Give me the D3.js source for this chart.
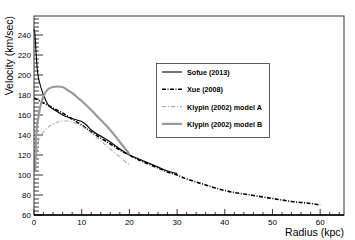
<!DOCTYPE html>
<html lang="en">
  <head>
    <meta charset="UTF-8" />
    <title>Rotation curves</title>
    <style>
      body { margin: 0; background: #fff; }
      svg { font-family: "Liberation Sans", Arial, sans-serif; }
    </style>
  </head>
  <body>
    <svg id="chart" width="355" height="240"></svg>
  </body>
  <script src="https://cdn.jsdelivr.net/npm/d3@7"></script>
  <script>
    // radius (kpc), velocity (km/sec)
    let sofueR = [0, 0.2, 0.4, 0.7, 1.2, 2, 3, 4, 5, 6, 7, 8, 9, 10, 11, 12, 14, 16, 18, 20, 22, 24, 26, 28, 30];
    let sofueV = [246, 240, 225, 205, 192, 180, 170, 166, 163, 160, 158, 156.5, 155, 153.5, 150, 145, 139, 133, 126, 120, 116, 112, 108, 104, 101.5];

    let xueR = [0, 2, 4, 6, 8, 10, 12, 14, 16, 18, 20, 22, 24, 26, 28, 30, 32, 34, 36, 38, 40, 42, 44, 46, 48, 50, 52, 54, 56, 58, 60];
    let xueV = [177, 172, 167, 162, 156, 150, 143, 137, 131, 125, 120, 115, 111, 107, 103, 100, 96, 93, 90, 87, 84.5, 82.5, 81, 79.5, 78, 76.5, 75, 73.5, 72.5, 71.5, 70];

    let klypinAR = [0.4, 0.7, 1, 2, 3, 4, 5, 6, 7, 8, 9, 10, 12, 14, 16, 18, 20];
    let klypinAV = [106, 125, 135, 143, 148, 151, 153, 154, 154, 153, 151, 149, 142, 134, 126, 118, 110];

    let klypinBR = [0.2, 0.5, 1, 1.5, 2, 3, 4, 5, 6, 7, 8, 9, 10, 12, 14, 16, 18, 20];
    let klypinBV = [105, 140, 160, 172, 179, 186, 188, 188.5, 188, 185, 182, 178, 174, 165, 155, 145, 133, 121];

    let seriesNames = ["Sofue (2013)", "Xue (2008)", "Klypin (2002) model A", "Klypin (2002) model B"];
    let xTicks = [0, 10, 20, 30, 40, 50, 60];
    let yTicks = [60, 80, 100, 120, 140, 160, 180, 200, 220, 240];

    let styles = [
      { color: "#000", width: 1.1, dash: null },
      { color: "#000", width: 1.6, dash: "4,1.5,1,1.5" },
      { color: "#aaa", width: 1.1, dash: "4,2,1,2" },
      { color: "#999", width: 2.2, dash: null },
    ];

    let series = [
      d3.zip(sofueR, sofueV),
      d3.zip(xueR, xueV),
      d3.zip(klypinAR, klypinAV),
      d3.zip(klypinBR, klypinBV),
    ];

    let svg = d3.select("#chart");
    let padL = 34, padR = 344, padT = 16, padB = 215;

    let x = d3.scaleLinear().domain([0, 65]).range([padL, padR]);
    let y = d3.scaleLinear().domain([60, 259]).range([padB, padT]);

    // minor ticks
    let g = svg.append("g");
    g.selectAll(".xminor")
      .data(d3.range(0, 65, 2))
      .enter()
      .append("line")
      .attr("x1", (d) => x(d))
      .attr("x2", (d) => x(d))
      .attr("y1", padB)
      .attr("y2", (d) => (d % 10 === 0 ? padB - 6 : padB - 3))
      .attr("stroke", "#000")
      .attr("stroke-width", 0.8);
    g.selectAll(".yminor")
      .data(d3.range(60, 259, 4))
      .enter()
      .append("line")
      .attr("y1", (d) => y(d))
      .attr("y2", (d) => y(d))
      .attr("x1", padL)
      .attr("x2", (d) => ((d - 60) % 20 === 0 ? padL + 9 : padL + 5))
      .attr("stroke", "#000")
      .attr("stroke-width", 0.8);

    // tick labels
    svg.append("g")
      .selectAll("text")
      .data(xTicks)
      .enter()
      .append("text")
      .attr("x", (d) => x(d))
      .attr("y", padB + 10)
      .attr("text-anchor", "middle")
      .attr("font-size", 8)
      .text((d) => d);
    svg.append("g")
      .selectAll("text")
      .data(yTicks)
      .enter()
      .append("text")
      .attr("x", padL - 3)
      .attr("y", (d) => y(d) + 3)
      .attr("text-anchor", "end")
      .attr("font-size", 8)
      .text((d) => d);

    // curves
    let line = d3
      .line()
      .x((d) => x(d[0]))
      .y((d) => y(d[1]))
      .curve(d3.curveMonotoneX);

    svg.append("g")
      .selectAll("path")
      .data(series)
      .enter()
      .append("path")
      .attr("d", line)
      .attr("fill", "none")
      .attr("stroke", (d, i) => styles[i].color)
      .attr("stroke-width", (d, i) => styles[i].width)
      .attr("stroke-dasharray", (d, i) => styles[i].dash);

    // frame
    svg.append("rect")
      .attr("x", padL)
      .attr("y", padT)
      .attr("width", padR - padL)
      .attr("height", padB - padT)
      .attr("fill", "none")
      .attr("stroke", "#333")
      .attr("stroke-width", 1);
    svg.append("line")
      .attr("x1", padL)
      .attr("x2", padR)
      .attr("y1", padB)
      .attr("y2", padB)
      .attr("stroke", "#000")
      .attr("stroke-width", 1.3);

    // axis titles
    svg.append("text")
      .attr("transform", "translate(13,16) rotate(-90)")
      .attr("text-anchor", "end")
      .attr("font-size", 10.5)
      .text("Velocity (km/sec)");
    svg.append("text")
      .attr("x", padR)
      .attr("y", 236)
      .attr("text-anchor", "end")
      .attr("font-size", 10.5)
      .text("Radius (kpc)");

    // legend
    let legend = svg.append("g");
    legend.append("rect")
      .attr("x", 156.5)
      .attr("y", 63.5)
      .attr("width", 113)
      .attr("height", 74)
      .attr("fill", "#fff")
      .attr("stroke", "#333")
      .attr("stroke-width", 0.8);
    let rows = legend
      .selectAll(".row")
      .data(seriesNames)
      .enter()
      .append("g")
      .attr("transform", (d, i) => `translate(0,${72 + i * 17.3})`);
    rows.append("line")
      .attr("x1", 162)
      .attr("x2", 182)
      .attr("y1", 0)
      .attr("y2", 0)
      .attr("stroke", (d, i) => styles[i].color)
      .attr("stroke-width", (d, i) => styles[i].width)
      .attr("stroke-dasharray", (d, i) => styles[i].dash);
    rows.append("text")
      .attr("x", 187)
      .attr("y", 3)
      .attr("font-size", 7.2)
      .attr("font-weight", "bold")
      .text((d) => d);
  </script>
</html>
